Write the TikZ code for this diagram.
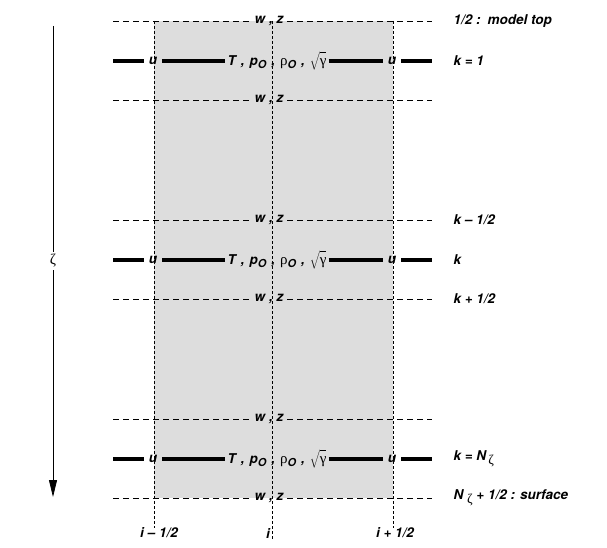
\documentclass[tikz,border=0pt]{standalone}
\usepackage{fontspec}
\setmainfont{TeX Gyre Heros}
\newfontfamily\grk{Liberation Serif}
\usetikzlibrary{arrows.meta}
\definecolor{cellgray}{RGB}{221,221,221}
\newcommand{\subO}{\raisebox{-0.45ex}{\fontsize{11}{11}\selectfont\bfseries\itshape O}}
\newcommand{\grz}{{\upshape\mdseries\grk ζ}}
\newcommand{\gap}{\hspace{5pt}}
\begin{document}
\begin{tikzpicture}[x=1pt,y=-1pt,
  lbl/.style={font=\fontsize{13.5}{15}\selectfont\bfseries\itshape, inner ysep=1pt},
  half/.style={draw=black, line width=0.8pt, dash pattern=on 6pt off 4pt},
  full/.style={draw=black, line width=3.2pt},
  grid/.style={draw=black, line width=0.6pt, dash pattern=on 3pt off 2pt}]
\useasboundingbox (0,0) rectangle (607,548);
\fill[cellgray] (154,21) rectangle (393,498);
% arrow
\coordinate (atop) at (53,26);
\coordinate (abot) at (53,497);
\draw[line width=0.8pt, -{Triangle[length=17pt,width=8pt]}] (atop) -- (abot);
\node[fill=white, inner sep=2pt, font=\fontsize{15}{17}\selectfont] (zeta) at (53,261) {\grz};
% half levels
\foreach \n/\y in {a/21,b/100,c/220,d/299,e/419,f/498}{
  \coordinate (h\n L) at (113,\y);
  \coordinate (h\n R) at (432,\y);
  \node[lbl, inner xsep=4pt] (wz\n) at (269,\y) {w , z};
  \draw[half] (h\n L) -- (wz\n) -- (h\n R);
}
% full levels
\foreach \n/\y in {a/61,b/260,c/459}{
  \coordinate (f\n L) at (113,\y);
  \coordinate (f\n R) at (432,\y);
  \node[lbl, inner xsep=5pt] (u\n L) at (153,\y) {u};
  \node[lbl, inner xsep=5pt] (u\n R) at (392,\y) {u};
  \node[lbl, inner xsep=2pt] (t\n) at (277,\y) {T\gap,\gap p\subO\gap,\gap {\upshape\mdseries\fontsize{15}{15}\selectfont\grk ρ}\subO\gap,\gap $\sqrt{\vphantom{\big(}\hbox{\upshape\mdseries\fontsize{15}{15}\selectfont\grk γ}}$};
  \draw[full] (f\n L) -- (u\n L) -- (t\n) -- (u\n R) -- (f\n R);
}
% vertical grid lines
\coordinate (vl1) at (154,21); \coordinate (vl2) at (154,528);
\coordinate (vc1) at (272,21); \coordinate (vc2) at (272,540);
\coordinate (vr1) at (393,21); \coordinate (vr2) at (393,528);
\draw[grid] (vl1) -- (vl2);
\draw[grid] (vc1) -- (vc2);
\draw[grid] (vr1) -- (vr2);
% right labels
\node[lbl, anchor=west] (r1) at (450,21) {1/2 :\hspace{7pt}model top};
\node[lbl, anchor=west] (r2) at (450,61) {k = 1};
\node[lbl, anchor=west] (r3) at (450,220) {k – 1/2};
\node[lbl, anchor=west] (r4) at (450,260) {k};
\node[lbl, anchor=west] (r5) at (450,299) {k + 1/2};
\node[lbl, anchor=west] (r6) at (450,459) {k = N\,\raisebox{-0.6ex}{\grz}};
\node[lbl, anchor=west] (r7) at (450,498) {N \raisebox{-0.6ex}{\grz} + 1/2 : surface};
% bottom labels
\node[lbl] (b1) at (159,533) {i – 1/2};
\node[lbl] (b2) at (268,533) {i};
\node[lbl] (b3) at (395,533) {i + 1/2};
\end{tikzpicture}
\end{document}
